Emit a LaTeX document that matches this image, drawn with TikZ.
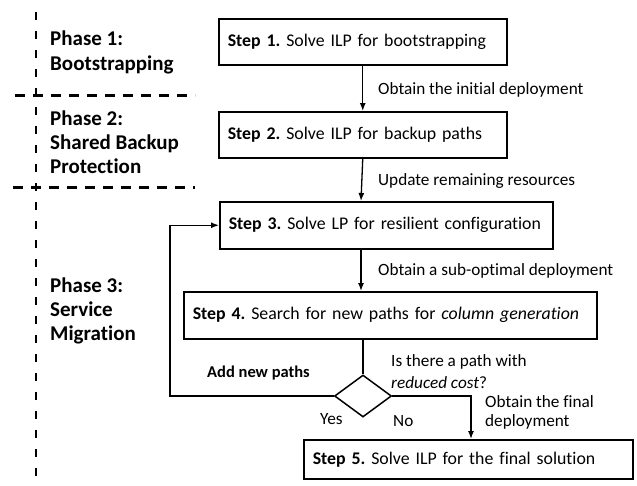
\documentclass[tikz,border=0pt]{standalone}
\usepackage{fontspec}
\setmainfont{Carlito}[Ligatures={NoCommon}]
\usetikzlibrary{positioning,shapes.geometric,arrows.meta}
\tikzstyle{stepBox} = [draw, line width=1.5pt, anchor=north west, align=left, inner xsep=9pt, inner ysep=0pt, font=\fontsize{17.8}{21}\selectfont\frenchspacing]
\tikzstyle{flowLine} = [line width=1.3pt]
\tikzstyle{flowArrow} = [flowLine, -{Latex[length=8pt,width=6pt]}]
\tikzstyle{phaseLine} = [line width=3pt, dash pattern=on 10pt off 8pt]
\tikzstyle{phaseText} = [anchor=west, align=left, inner sep=0pt, font=\bfseries\fontsize{21}{24.2}\selectfont]
\tikzstyle{flowText} = [anchor=west, inner sep=0pt, font=\fontsize{17.2}{20}\selectfont]
\tikzstyle{choice} = [draw, diamond, line width=1.5pt, minimum width=57pt, minimum height=42pt, inner sep=0pt]
\begin{document}
\begin{tikzpicture}[x=1pt, y=-1pt]
        \useasboundingbox (0,0) rectangle (637,485);
        % phases
        \draw [phaseLine, line width=2.5pt, dash pattern=on 8pt off 11pt] (36,12) -- (36,485);
        \draw [phaseLine] (15,95) -- (195,95);
        \draw [phaseLine] (13,187) -- (195,187);
        \node [phaseText] (phaseA) at (50,52.5) {Phase 1:\\Bootstrapping};
        \node [phaseText] (phaseB) at (50,142.5) {Phase 2:\\Shared Backup\\Protection};
        \node [phaseText] (phaseC) at (50,311) {Phase 3:\\Service\\Migration};

        % steps
        \node [stepBox, text width=270pt, minimum height=46pt] (stepA) at (218,18) {\textbf{Step 1.} Solve ILP for bootstrapping};
        \node [stepBox, text width=270pt, minimum height=46pt] (stepB) at (218,111) {\textbf{Step 2.} Solve ILP for backup paths};
        \node [stepBox, text width=315pt, minimum height=47pt] (stepC) at (219,201) {\mbox{\textbf{Step 3.} Solve LP for resilient configuration}};
        \node [stepBox, text width=395pt, minimum height=47pt] (stepD) at (183,291) {\mbox{\textbf{Step 4.} Search for new paths for \textit{column generation}}};
        \node [stepBox, text width=311pt, minimum height=39pt] (stepE) at (303,439) {\textbf{Step 5.} Solve ILP for the final solution};
        \node [choice] (check) at (363,396) {};

        \coordinate (spine) at (361,0);
        \coordinate (loop) at (170,0);
        \coordinate (drop) at (471,0);

        \draw [flowArrow] (stepA.south) -- (stepB.north);
        \draw [flowArrow] (stepB.south) -- (spine |- stepC.north);
        \draw [flowArrow] (spine |- stepC.south) -- (spine |- stepD.north);
        \draw [flowLine] (check.north |- stepD.south) -- (check.north);
        \draw [flowArrow] (check.west) -- (loop |- check.west) |- (stepC.west);
        \draw [flowArrow] (check.east) -| (drop |- stepE.north);

        % labels
        \node [flowText] (textA) at (378,90) {Obtain the initial deployment};
        \node [flowText] (textB) at (378,181) {Update remaining resources};
        \node [flowText] (textC) at (378,271) {Obtain a sub-optimal deployment};
        \node [flowText] (textD) at (391,362) {Is there a path with};
        \node [flowText] (textE) at (391,383) {\textit{reduced cost}?};
        \node [flowText] (textF) at (485,402) {Obtain the final};
        \node [flowText] (textG) at (485,422) {deployment};
        \node [flowText, font=\bfseries\fontsize{16.5}{20}\selectfont] (textH) at (207,373) {Add new paths};
        \node [flowText] (textYes) at (320,419) {Yes};
        \node [flowText] (textNo) at (393,421) {No};
      \end{tikzpicture}
\end{document}
